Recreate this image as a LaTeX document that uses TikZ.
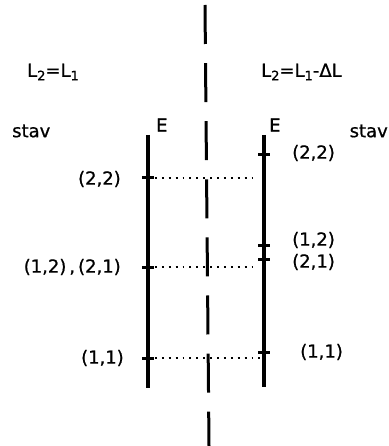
\documentclass[tikz,border=0pt]{standalone}
\usepackage{fontspec}
\setmainfont{DejaVu Sans}[FakeBold=0.8]
\newcommand{\lsub}[1]{\raisebox{-3.5pt}{\fontsize{13}{13}\selectfont #1}}
\begin{document}
\begin{tikzpicture}[x=1pt,y=-1pt,
  lbl/.style={inner sep=0pt,font=\fontsize{18}{21}\selectfont},
  level/.style={line width=3.4pt},
  tickmark/.style={line width=3pt},
  dots/.style={line width=1.9pt,dash pattern=on 1.9pt off 5pt},
  axis/.style={line width=3pt,dash pattern=on 39pt off 19.1pt}]
\useasboundingbox (0,0) rectangle (388,446);
% centre axis
\coordinate (ctop) at (205,5);
\coordinate (cbot) at (209,446);
\draw[axis] (ctop) -- (cbot);
% level lines
\coordinate (lt) at (148,135);
\coordinate (lb) at (148,388);
\coordinate (rt) at (264,135);
\coordinate (rb) at (264,387);
\draw[level] (lt) -- (lb);
\draw[level] (rt) -- (rb);
% left ticks
\coordinate (l22) at (148,178);
\coordinate (l12) at (148,267);
\coordinate (l11) at (148,358);
% right ticks
\coordinate (r22) at (264,155);
\coordinate (r12) at (264,245);
\coordinate (r21) at (264,259);
\coordinate (r11) at (264,352);
\foreach \p in {l22,l12,l11,r22,r12,r21,r11}
  \draw[tickmark] ([xshift=-6pt]\p) -- ([xshift=6pt]\p);
% dotted connectors
\coordinate (d22) at (258,178);
\coordinate (d12) at (258,267);
\coordinate (d11) at (262,358);
\draw[dots] (l22) -- (d22);
\draw[dots] (l12) -- (d12);
\draw[dots] (l11) -- (d11);
% labels
\node[lbl,anchor=west] (hl) at (27,72) {L\lsub{2}=L\lsub{1}};
\node[lbl,anchor=west] (hr) at (261,72) {L\lsub{2}=L\lsub{1}-ΔL};
\node[lbl,anchor=west] (sl) at (12,131) {stav};
\node[lbl,anchor=east] (sr) at (388,131) {stav};
\node[lbl,anchor=west] (el) at (156,125) {E};
\node[lbl,anchor=west] (er) at (269,125) {E};
\node[lbl,anchor=east] (t22) at (121,179) {(2,2)};
\node[lbl,anchor=east] (t12) at (121,267) {(1,2)\,,\,(2,1)};
\node[lbl,anchor=east] (t11) at (124,358) {(1,1)};
\node[lbl,anchor=west] (u22) at (292,153) {(2,2)};
\node[lbl,anchor=west] (u12) at (292,240) {(1,2)};
\node[lbl,anchor=west] (u21) at (292,262) {(2,1)};
\node[lbl,anchor=west] (u11) at (300,352) {(1,1)};
\end{tikzpicture}
\end{document}
